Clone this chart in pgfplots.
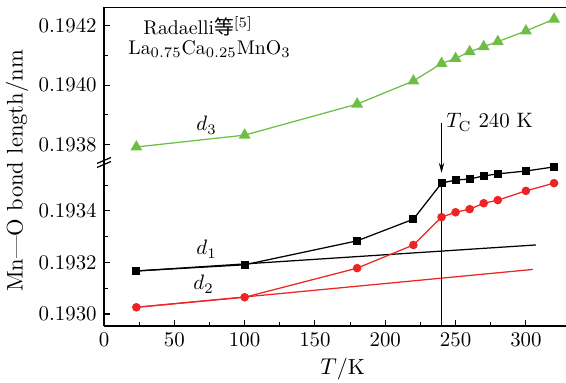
\documentclass[border=0pt]{standalone}
\usepackage{pgfplots}
\pgfplotsset{compat=1.18}
\usepackage{fontspec}
\newfontfamily\cjk{Noto Sans CJK SC}
\usetikzlibrary{arrows.meta}
\definecolor{cgreen}{RGB}{110,190,70}
\definecolor{cred}{RGB}{238,36,36}
\def\u{0.4794pt}
\begin{document}
\begin{tikzpicture}
\useasboundingbox (0,0) rectangle (566*\u,-383*\u);
\pgfplotsset{
  common/.style={
    scale only axis, width=222.5pt, xmin=0, xmax=330,
    axis y line*=left, axis line style={-, line width=0.6pt},
    tick align=inside, major tick length=2.9pt, minor tick length=1.8pt,
    tick style={line width=0.5pt, black},
    scaled y ticks=false, clip=false,
    yticklabel style={/pgf/number format/.cd, fixed, precision=4, fixed zerofill},
    anchor=south west,
  }
}
% upper axis
\begin{axis}[common, at={(104*\u,-160*\u)}, height=73.2pt,
  ymin=0.193747, ymax=0.194263,
  axis x line*=top, xtick=\empty,
  ytick={0.1938,0.1940,0.1942}, minor ytick={0.1939,0.1941}]
\addplot[cgreen, line width=0.6pt, mark=triangle*, mark size=2.7pt, mark options={fill=cgreen, draw=cgreen}]
coordinates {(23,0.193791) (100,0.193831) (180,0.193936) (220,0.194014) (240,0.194073) (250,0.194090) (260,0.194113) (270,0.194130) (280,0.194147) (300,0.194183) (320,0.194223)};
\end{axis}
% lower axis
\begin{axis}[common, at={(104*\u,-326*\u)}, height=79.6pt,
  ymin=0.1929534, ymax=0.193598,
  axis x line*=bottom,
  xtick={0,50,...,300}, minor x tick num=1,
  ytick={0.1930,0.1932,0.1934}, minor ytick={0.1931,0.1933,0.1935}]
\addplot[black, line width=0.6pt] coordinates {(23,0.193167) (307,0.193268)};
\addplot[cred, line width=0.6pt] coordinates {(23,0.193026) (305,0.193173)};
\addplot[black, line width=0.6pt, mark=square*, mark size=1.6pt, mark options={fill=black}]
coordinates {(23,0.193167) (100,0.193191) (180,0.193284) (220,0.193368) (240,0.193508) (250,0.193520) (260,0.193524) (270,0.193536) (280,0.193544) (300,0.193555) (320,0.193571)};
\addplot[cred, line width=0.6pt, mark=*, mark size=1.75pt, mark options={fill=cred, draw=cred}]
coordinates {(23,0.193026) (100,0.193065) (180,0.193178) (220,0.193268) (240,0.193376) (250,0.193395) (260,0.193407) (270,0.193430) (280,0.193442) (300,0.193478) (320,0.193508)};
\draw[line width=0.6pt] (axis cs:240,0.1929534) -- (axis cs:240,0.193508);
\draw[line width=0.6pt, -{Stealth[length=4.8pt,width=2.6pt]}] (axis cs:240,0.193742) -- (axis cs:240,0.193548);
\end{axis}
% axis break
\draw[line width=0.6pt] (97*\u,-163.5*\u) -- (111*\u,-157.5*\u);
\draw[line width=0.6pt] (97*\u,-167.5*\u) -- (111*\u,-161.5*\u);
% texts
\node[anchor=base west, inner sep=0pt, font=\fontsize{9.5}{11}\selectfont] at (143*\u,-35*\u) {Radaelli{\cjk 等}$^{[5]}$};
\node[anchor=base west, inner sep=0pt, font=\fontsize{9.5}{11}\selectfont] at (128*\u,-55*\u) {La$_{0.75}$Ca$_{0.25}$MnO$_3$};
\node[anchor=base west, inner sep=0pt] at (446*\u,-128*\u) {$T_{\mathrm{C}}$ 240 K};
\node[anchor=base west, inner sep=0pt] at (196*\u,-131*\u) {$d_3$};
\node[anchor=base west, inner sep=0pt] at (196*\u,-255*\u) {$d_1$};
\node[anchor=base west, inner sep=0pt] at (193*\u,-290*\u) {$d_2$};
\node[anchor=base west, inner sep=0pt, font=\fontsize{10.5}{12}\selectfont] at (320*\u,-375*\u) {$T$/K};
\node[rotate=90, inner sep=0pt, font=\fontsize{10.8}{12}\selectfont] at (17*\u,-171*\u) {Mn---O bond length/nm};
\end{tikzpicture}
\end{document}
